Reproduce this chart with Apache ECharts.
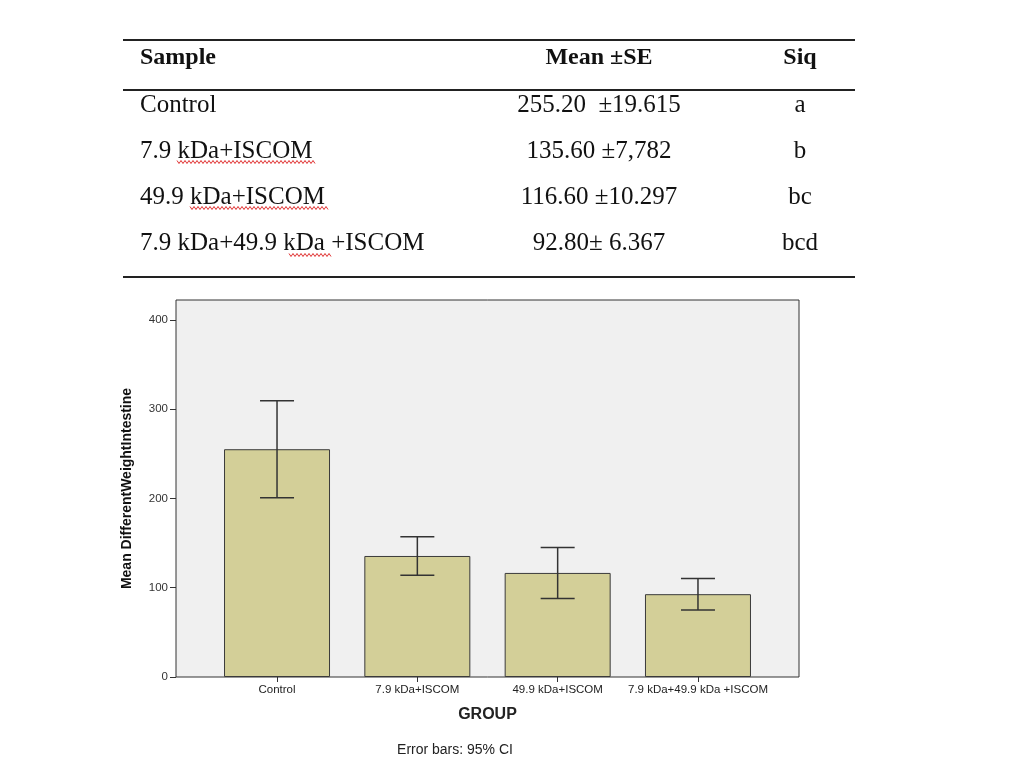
<!DOCTYPE html>
<html>
<head>
<meta charset="utf-8">
<script src="https://cdn.jsdelivr.net/npm/echarts@6/dist/echarts.min.js"></script>
<style>
  html, body { margin: 0; padding: 0; background: #fff; }
  #chart { width: 1024px; height: 768px; }
</style>
</head>
<body>
<div id="chart"></div>
<script>
// data
const groups = ['Control', '7.9 kDa+ISCOM', '49.9 kDa+ISCOM', '7.9 kDa+49.9 kDa +ISCOM']
const means = [255.2, 135.6, 116.6, 92.8]
const ciLow = [200.8, 114.0, 88.0, 75.1]
const ciHigh = [309.6, 157.2, 145.2, 110.5]
const yTicks = [0, 100, 200, 300, 400]

// table above the chart
const tableHead = ['Sample', 'Mean \u00b1SE', 'Siq']
const tableSample = ['Control', '7.9 kDa+ISCOM', '49.9 kDa+ISCOM', '7.9 kDa+49.9 kDa +ISCOM']
const tableMean = ['255.20  \u00b119.615', '135.60 \u00b17,782', '116.60 \u00b110.297', '92.80\u00b1 6.367']
const tableSiq = ['a', 'b', 'bc', 'bcd']

const chart = echarts.init(document.getElementById('chart'), null, { renderer: 'canvas' })

const serif = 'Liberation Serif, Times New Roman, serif'
const sans = 'Liberation Sans, Arial, sans-serif'

// wavy spell-check underline
function squiggle(x0, x1, y) {
  const pts = []
  for (let x = x0, i = 0; x <= x1; x += 2, i++) {
    pts.push([x, y + (i % 2 ? 1.5 : -1.5)])
  }
  return {
    type: 'polyline',
    shape: { points: pts },
    style: { stroke: '#e03030', lineWidth: 1, fill: null },
    silent: true
  }
}

const rowY = [105, 151, 197, 243]
const graphics = [
  { type: 'line', shape: { x1: 123, y1: 40, x2: 855, y2: 40 }, style: { stroke: '#222', lineWidth: 2 } },
  { type: 'line', shape: { x1: 123, y1: 90, x2: 855, y2: 90 }, style: { stroke: '#222', lineWidth: 2 } },
  { type: 'line', shape: { x1: 123, y1: 277, x2: 855, y2: 277 }, style: { stroke: '#222', lineWidth: 2 } },
  { type: 'text', x: 140, y: 58, style: { text: tableHead[0], font: 'bold 24px ' + serif, fill: '#111', textVerticalAlign: 'middle' } },
  { type: 'text', x: 599, y: 58, style: { text: tableHead[1], font: 'bold 24px ' + serif, fill: '#111', textAlign: 'center', textVerticalAlign: 'middle' } },
  { type: 'text', x: 800, y: 58, style: { text: tableHead[2], font: 'bold 24px ' + serif, fill: '#111', textAlign: 'center', textVerticalAlign: 'middle' } },
  { type: 'text', x: 455, y: 750, style: { text: 'Error bars: 95% CI', font: '14px ' + sans, fill: '#222', textAlign: 'center', textVerticalAlign: 'middle' } }
]
rowY.forEach((y, i) => {
  graphics.push(
    { type: 'text', x: 140, y: y, style: { text: tableSample[i], font: '25px ' + serif, fill: '#111', textVerticalAlign: 'middle' } },
    { type: 'text', x: 599, y: y, style: { text: tableMean[i], font: '25px ' + serif, fill: '#111', textAlign: 'center', textVerticalAlign: 'middle' } },
    { type: 'text', x: 800, y: y, style: { text: tableSiq[i], font: '25px ' + serif, fill: '#111', textAlign: 'center', textVerticalAlign: 'middle' } }
  )
})
graphics.push(squiggle(177, 316, 162), squiggle(190, 328, 208), squiggle(289, 331, 255))

const option = {
  animation: false,
  backgroundColor: '#fff',
  graphic: graphics,
  grid: {
    left: 176,
    right: 225,
    top: 300,
    bottom: 91,
    show: true,
    backgroundColor: '#f0f0f0',
    borderColor: '#333',
    borderWidth: 1
  },
  xAxis: {
    type: 'value',
    min: -0.72,
    max: 3.72,
    name: 'GROUP',
    nameLocation: 'middle',
    nameGap: 30,
    nameTextStyle: { fontFamily: sans, fontWeight: 'bold', fontSize: 16, color: '#222' },
    axisLine: { show: false, onZero: false },
    splitLine: { show: false },
    axisTick: { show: true, length: 5, customValues: [0, 1, 2, 3], lineStyle: { color: '#333' } },
    axisLabel: {
      customValues: [0, 1, 2, 3],
      formatter: v => groups[Math.round(v)],
      fontFamily: sans,
      fontSize: 11.5,
      color: '#222',
      margin: 7
    }
  },
  yAxis: {
    type: 'value',
    min: 0,
    max: 422.4,
    name: 'Mean DifferentWeightIntestine',
    nameLocation: 'middle',
    nameGap: 42,
    nameTextStyle: { fontFamily: sans, fontWeight: 'bold', fontSize: 14, color: '#111' },
    axisLine: { show: false, onZero: false },
    splitLine: { show: false },
    axisTick: { show: true, length: 6, customValues: yTicks, lineStyle: { color: '#333' } },
    axisLabel: { customValues: yTicks, fontFamily: sans, fontSize: 11.5, color: '#333', margin: 8 }
  },
  series: [
    {
      type: 'bar',
      data: means.map((m, i) => [i, m]),
      barWidth: 106,
      itemStyle: { color: '#d3cf98', borderColor: '#3a3a3a', borderWidth: 1 }
    },
    {
      type: 'custom',
      data: means.map((m, i) => [i, ciLow[i], ciHigh[i]]),
      renderItem(params, api) {
        const lo = api.coord([api.value(0), api.value(1)])
        const hi = api.coord([api.value(0), api.value(2)])
        const half = 17
        const style = { stroke: '#333', lineWidth: 1.5 }
        return {
          type: 'group',
          children: [
            { type: 'line', shape: { x1: hi[0], y1: hi[1], x2: lo[0], y2: lo[1] }, style },
            { type: 'line', shape: { x1: hi[0] - half, y1: hi[1], x2: hi[0] + half, y2: hi[1] }, style },
            { type: 'line', shape: { x1: lo[0] - half, y1: lo[1], x2: lo[0] + half, y2: lo[1] }, style }
          ]
        }
      },
      z: 3
    }
  ]
}

chart.setOption(option)
</script>
</body>
</html>
